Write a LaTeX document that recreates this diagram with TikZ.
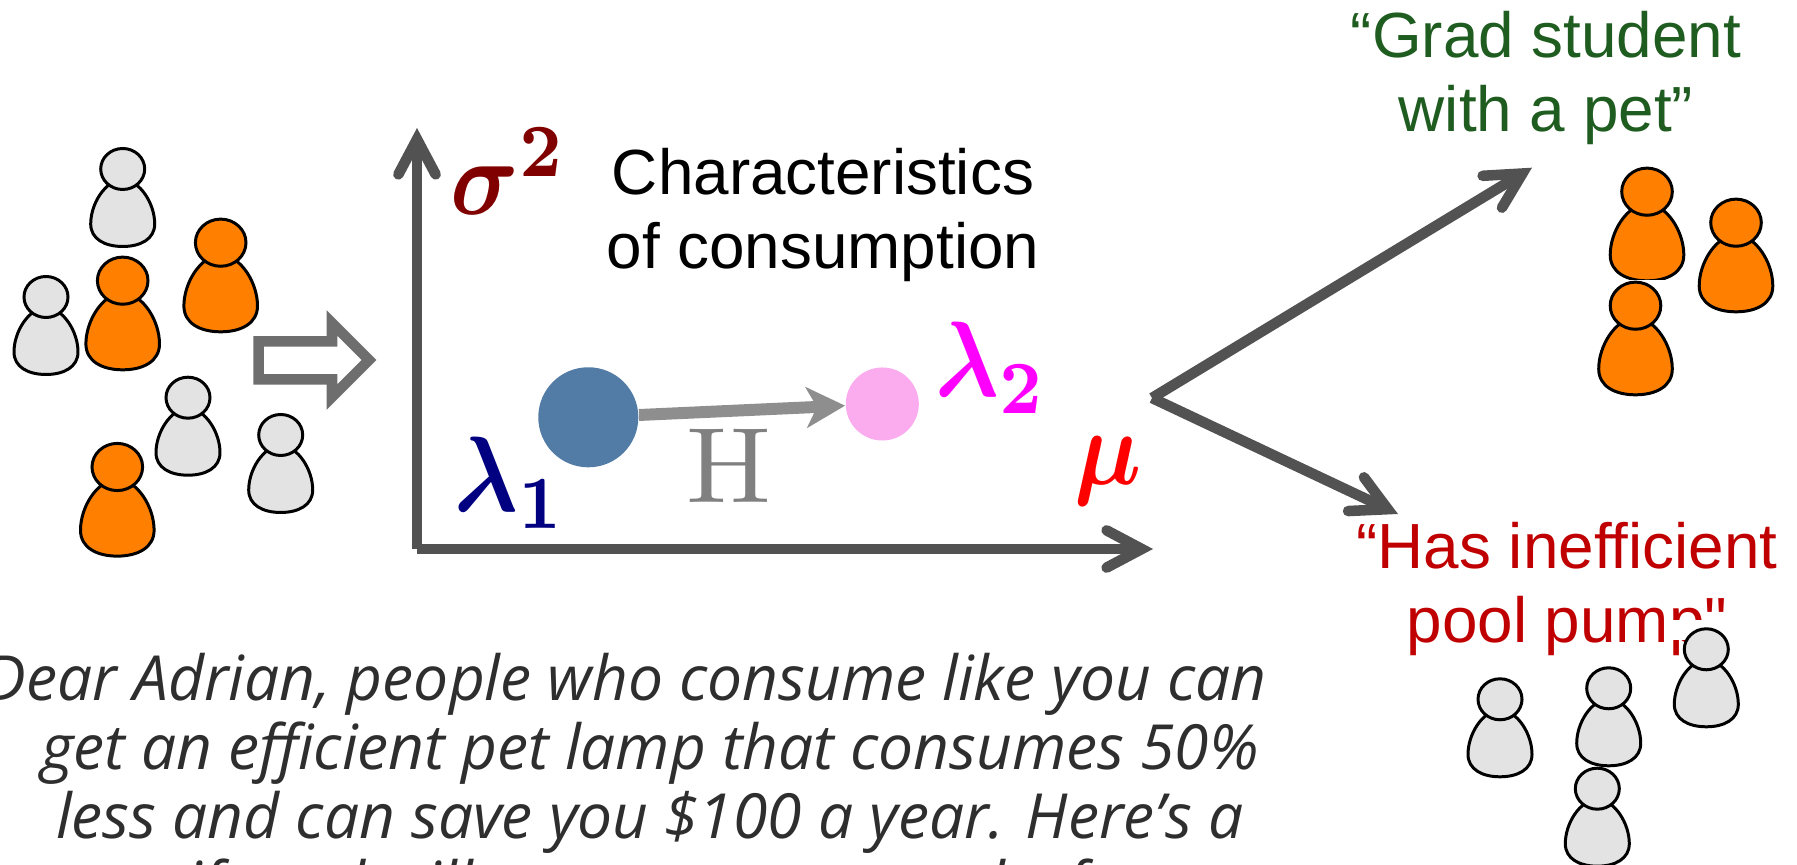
\documentclass[tikz,border=0pt]{standalone}
\usepackage[no-math]{fontspec}
\usepackage{amsmath}
\usetikzlibrary{arrows.meta}
\newfontfamily\captionfont{Liberation Sans}
\newfontfamily\letterfont{Open Sans}
\definecolor{Axis}{HTML}{525252}
\definecolor{Hollow}{HTML}{6E6E6E}
\definecolor{Shift}{HTML}{8E8E8E}
\definecolor{Crowd}{HTML}{E3E3E3}
\definecolor{Tagged}{HTML}{FF8000}
\definecolor{DotA}{HTML}{527BA6}
\definecolor{DotB}{HTML}{FAACEE}
\definecolor{GradGreen}{HTML}{1F5C20}
\definecolor{PoolRed}{HTML}{C00000}
\definecolor{Letter}{HTML}{2E2E2E}
\definecolor{SigmaRed}{HTML}{800000}
\definecolor{MuRed}{HTML}{FF0000}
\definecolor{LamBlue}{HTML}{000080}
\definecolor{LamPink}{HTML}{FF00FF}
\definecolor{ShiftText}{HTML}{808080}
\tikzset{
    pics/person/.style={code={
        \draw[line width=0.85pt, pic actions] (0,10) .. controls (18,12) and (32,35) .. (32,55) .. controls (32,70) and (18,77.5) .. (0,77.5) .. controls (-18,77.5) and (-32,70) .. (-32,55) .. controls (-32,35) and (-18,12) .. (0,10) -- cycle;
        \draw[line width=0.85pt, pic actions] (0,0) circle[x radius=22, y radius=20.5];
    }},
    crowdperson/.style={fill=Crowd},
    taggedperson/.style={fill=Tagged, scale=1.15},
    axisarrow/.style={line width=3pt, color=Axis, -{Straight Barb[length=10pt, width=10.6pt, line cap=round]}},
    shiftarrow/.style={line width=3.4pt, color=Shift, -{Stealth[length=11pt, width=11.5pt, inset=3pt]}},
    dot/.style={circle, inner sep=0pt},
    mathlabel/.style={anchor=base west, inner sep=0pt, xscale=2.7, yscale=3.05},
    caption/.style={align=center, anchor=base, inner sep=0pt, font=\captionfont\fontsize{18.15}{21.2}\selectfont},
}
\begin{document}
\begin{tikzpicture}[x=0.01cm, y=-0.01cm]
    \clip (0,0) rectangle (1797,865);
    \useasboundingbox (0,0) rectangle (1797,865);

    % Crowd on the left
    \pic[crowdperson] at (122.7,169) {person};
    \pic[crowdperson] at (46,297) {person};
    \pic[crowdperson] at (188,397.7) {person};
    \pic[crowdperson] at (280.7,435) {person};
    \pic[taggedperson] at (122.7,280.7) {person};
    \pic[taggedperson] at (220.7,242.7) {person};
    \pic[taggedperson] at (117.3,467) {person};

    % Hollow arrow into the plot
    \draw[line width=3pt, Hollow, miter limit=10] (258.7,341.3) -- (332,341.3) -- (332,323) -- (369,360) -- (332,397) -- (332,379.3) -- (258.7,379.3) -- cycle;

    % Axes
    \coordinate (origin) at (417,549);
    \coordinate (sigmatip) at (417,128);
    \coordinate (mutip) at (1153,549);
    \draw[axisarrow] (origin) -- (sigmatip);
    \draw[axisarrow] (origin) -- (mutip);
    \node[mathlabel, color=SigmaRed] (sigmalabel) at (449,215) {$\boldsymbol{\sigma^2}$};
    \node[mathlabel, color=MuRed] (mulabel) at (1073,485) {$\boldsymbol{\mu}$};

    \node[caption] (charlabel) at (823,269) {Characteristics\\of consumption};

    % Shift between the two dots
    \node[dot, fill=DotA, minimum size=1cm] (dotone) at (588.3,417.3) {};
    \node[dot, fill=DotB, minimum size=0.73cm] (dottwo) at (882.3,404) {};
    \draw[shiftarrow] (dotone) -- (dottwo);
    \node[mathlabel, color=LamBlue] (lamone) at (453,512) {$\boldsymbol{\lambda_1}$};
    \node[mathlabel, color=LamPink] (lamtwo) at (934,397) {$\boldsymbol{\lambda_2}$};
    \node[mathlabel, xscale=1.19, color=ShiftText] (shiftlabel) at (684,503) {$\mathrm{H}$};

    % Fork to the two groups
    \coordinate (fork) at (1152,398);
    \coordinate (gradtip) at (1532,167.7);
    \coordinate (pooltip) at (1398,514);
    \draw[axisarrow] (fork) -- (gradtip);
    \draw[axisarrow] (fork) -- (pooltip);

    \node[caption, GradGreen] (gradlabel) at (1546,132) {“Grad student\\with a pet”};
    \node[caption, PoolRed] (poollabel) at (1567,642.7) {“Has inefficient\\pool pump"};

    % Group on the top right
    \pic[taggedperson] at (1647,191.7) {person};
    \pic[taggedperson] at (1736,222.7) {person};
    \fill[white] (1590,280) rectangle (1690,300);
    \pic[taggedperson] at (1635.5,305.7) {person};

    % Group on the bottom right
    \pic[crowdperson] at (1500,699.3) {person};
    \pic[crowdperson] at (1608.7,688.3) {person};
    \pic[crowdperson] at (1597.3,788.7) {person};
    \fill[white] (1673,620) rectangle (1750,640);
    \pic[crowdperson] at (1706.3,649.3) {person};

    % Message
    \node[align=center, anchor=base, inner sep=0pt, Letter, font=\letterfont\itshape\fontsize{17.7}{19.6}\selectfont] (letter) at (650,907)
        {Dear Adrian, people who consume like you can\hspace*{13.8pt}\\get an efficient pet lamp that consumes 50\%\\less and can save you \$100 a year. Here’s a\hspace*{9pt}\\gift and will save money to make for};
\end{tikzpicture}
\end{document}
